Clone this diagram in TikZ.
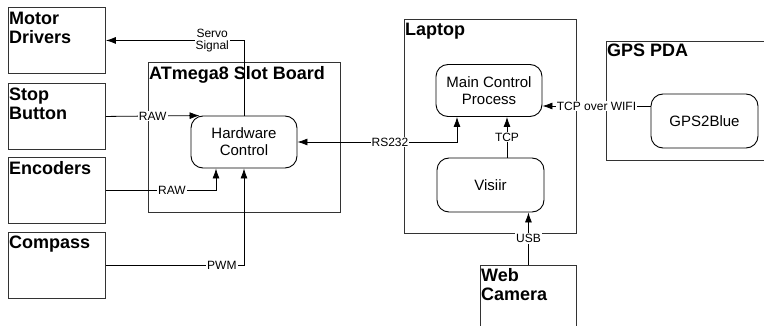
\documentclass[tikz,border=0pt]{standalone}
\usepackage{fontspec}
\setmainfont{Liberation Sans}
\usetikzlibrary{arrows.meta, calc}
\definecolor{linegray}{HTML}{333333}
\tikzset{
  devbox/.style={
    rectangle, draw=linegray, line width=0.9pt, anchor=north west,
    minimum width=97pt, minimum height=66pt, inner sep=0pt
  },
  frame/.style={
    rectangle, draw=linegray, line width=0.9pt, anchor=north west,
    inner sep=0pt
  },
  proc/.style={
    rectangle, rounded corners=12pt, draw=black, line width=0.9pt,
    align=center, minimum width=106pt, minimum height=52pt, inner sep=0pt,
    font=\fontsize{15}{17}\selectfont
  },
  ttl/.style={
    anchor=north west, inner sep=0pt, align=left,
    font=\fontsize{18}{19}\selectfont\bfseries
  },
  lbl/.style={fill=white, inner sep=1pt, align=center,
    font=\fontsize{12}{12.5}\selectfont},
  arr/.style={-{Latex[length=10pt,width=7pt]}, line width=0.8pt},
  twoway/.style={{Latex[length=10pt,width=7pt]}-{Latex[length=10pt,width=7pt]},
    line width=0.8pt}
}

\begin{document}
\begin{tikzpicture}[x=1pt, y=-1pt]
  \clip (0,0) rectangle (764,326);
  % Sensors and actuators
  \node[devbox] (motor) at (8,7) {};
  \node[devbox] (stop) at (8,83) {};
  \node[devbox] (enc) at (8,157) {};
  \node[devbox] (compass) at (8,232) {};
  \node[ttl] (motor-t) at ($(motor.north west)+(1,5)$) {Motor\\Drivers};
  \node[ttl] (stop-t) at ($(stop.north west)+(1,5)$) {Stop\\Button};
  \node[ttl] (enc-t) at ($(enc.north west)+(1,4)$) {Encoders};
  \node[ttl] (compass-t) at ($(compass.north west)+(1,4)$) {Compass};
  % Slot board
  \node[frame, minimum width=192pt, minimum height=150pt] (board) at (148,62) {};
  \node[ttl] (board-t) at ($(board.north west)+(1,4)$) {ATmega8 Slot Board};
  \node[proc] (hw) at (244,142) {Hardware\\Control};
  % Laptop
  \node[frame, minimum width=172pt, minimum height=214pt] (laptop) at (404,19) {};
  \node[ttl] (laptop-t) at ($(laptop.north west)+(1,4)$) {Laptop};
  \node[proc] (mcp) at (489,90.5) {Main Control\\Process};
  \node[proc, minimum width=107pt, minimum height=54pt] (visiir) at (490.5,185) {Visiir};
  % Camera and PDA
  \node[frame, minimum width=96pt, minimum height=90pt] (webcam) at (480,265) {};
  \node[ttl] (webcam-t) at ($(webcam.north west)+(1,3)$) {Web\\Camera};
  \node[frame, minimum width=180pt, minimum height=119pt] (pda) at (606,41) {};
  \node[ttl] (pda-t) at ($(pda.north west)+(1,3)$) {GPS PDA};
  \node[proc, minimum width=107pt, minimum height=54pt] (gps) at (704.5,121) {GPS2Blue};
  % Links
  \draw[arr] (hw.north) |- (motor.east) node[lbl, pos=0.615] {Servo\\Signal};
  \draw[arr] (stop.east) -- ($(hw.north west)+(9,0)$) node[lbl, midway] {RAW};
  \draw[arr] (enc.east) -| ($(hw.south)+(-28,0)$) node[lbl, pos=0.3] {RAW};
  \draw[arr] (compass.east) -| (hw.south) node[lbl, pos=0.42] {PWM};
  \draw[twoway] (hw.east) -| ($(mcp.south)+(-32,0)$) node[lbl, pos=0.29] {RS232};
  \draw[arr] ($(visiir.north)+(16.5,0)$) -- ($(mcp.south)+(18,0)$)
    node[lbl, midway] {TCP};
  \draw[arr] (webcam.north) -- (webcam.north |- visiir.south)
    node[lbl, midway] {USB};
  \draw[arr] ($(gps.west)+(0,-15)$) -- ($(mcp.east)+(0,15.5)$)
    node[lbl, midway] {TCP over WIFI};
\end{tikzpicture}
\end{document}
